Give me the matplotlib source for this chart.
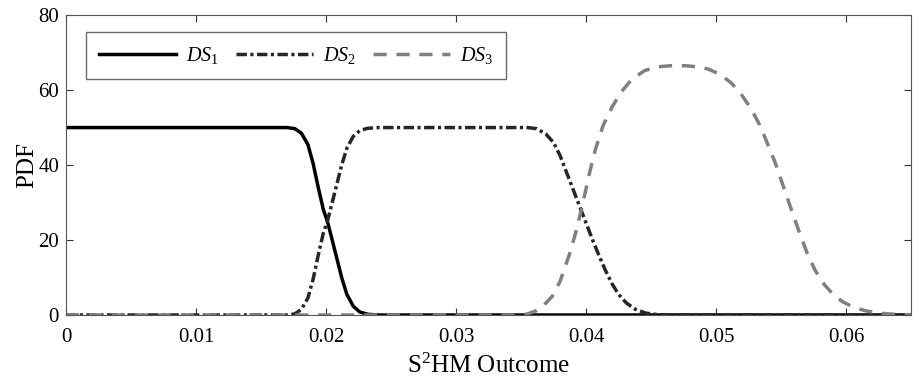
import matplotlib
matplotlib.use("Agg")
import matplotlib.pyplot as plt

plt.rcParams['font.family'] = ['Liberation Serif', 'DejaVu Serif']
plt.rcParams['mathtext.fontset'] = 'custom'
plt.rcParams['mathtext.rm'] = 'Liberation Serif'
plt.rcParams['mathtext.it'] = 'Liberation Serif:italic'

ds1_x = [0, 0.0170, 0.0176, 0.0181, 0.0186, 0.0190, 0.0194, 0.0198, 0.0201, 0.0204,
         0.0208, 0.0212, 0.0216, 0.0221, 0.0226, 0.0232, 0.0240, 0.065]
ds1_y = [50, 50, 49.7, 48.5, 45.5, 40.5, 34, 28, 25, 21,
         15.5, 10, 5.5, 2.3, 0.8, 0.2, 0, 0]

ds2_x = [0, 0.0170, 0.0176, 0.0181, 0.0186, 0.0190, 0.0194, 0.0198, 0.0201, 0.0204,
         0.0208, 0.0212, 0.0216, 0.0221, 0.0226, 0.0232, 0.0240, 0.0355, 0.0362,
         0.0369, 0.0375, 0.0380, 0.0385, 0.0390, 0.0395, 0.0400, 0.0405, 0.0410,
         0.0415, 0.0420, 0.0425, 0.0431, 0.0438, 0.0446, 0.0455, 0.0465, 0.065]
ds2_y = [0, 0, 0.3, 1.5, 4.5, 9.5, 16, 22, 25, 29,
         34.5, 40, 44.5, 47.7, 49.2, 49.8, 50, 50, 49.7,
         48.3, 46, 42.5, 38, 33.5, 29, 24.5, 20, 15.8,
         11.8, 8.3, 5.5, 3.2, 1.5, 0.5, 0.1, 0, 0]

ds3_x = [0, 0.0350, 0.0355, 0.0362, 0.0368, 0.0374, 0.0380, 0.0387, 0.0392, 0.0397,
         0.0402, 0.0407, 0.0413, 0.0420, 0.0427, 0.0435, 0.0445, 0.0455, 0.0465,
         0.0476, 0.0486, 0.0494, 0.0503, 0.0512, 0.0520, 0.0527, 0.0533, 0.0538,
         0.0545, 0.0551, 0.0557, 0.0563, 0.0570, 0.0576, 0.0583, 0.0590, 0.0597,
         0.0605, 0.0614, 0.0623, 0.0632, 0.0645, 0.065]
ds3_y = [0, 0, 0.3, 1.2, 2.8, 5.0, 9, 16, 22, 29,
         37, 44, 50.5, 55.5, 59.5, 62.8, 65.2, 66.2, 66.5,
         66.5, 66.2, 65.6, 64.2, 61.8, 58.5, 55, 51, 47,
         41, 35, 29, 23, 16.5, 12, 8.2, 5.5, 3.6,
         2.2, 1.2, 0.6, 0.3, 0.1, 0.05]

labels = [r'$\mathit{DS}_{\mathit{1}}$', r'$\mathit{DS}_{\mathit{2}}$', r'$\mathit{DS}_{\mathit{3}}$']
xticks = [0, 0.01, 0.02, 0.03, 0.04, 0.05, 0.06]
xticklabels = ['0', '0.01', '0.02', '0.03', '0.04', '0.05', '0.06']
yticks = [0, 20, 40, 60, 80]

fig = plt.figure(figsize=(9.13, 3.87), dpi=100)
ax = fig.add_axes([0.0723, 0.186, 0.9257, 0.775])

ax.plot(ds1_x, ds1_y, color='black', lw=2.5, ls='-', label=labels[0])
ax.plot(ds2_x, ds2_y, color='#262626', lw=2.5, ls=(0, (3.0, 1.0, 0.9, 1.0)), label=labels[1])
ax.plot(ds3_x, ds3_y, color='#808080', lw=2.5, ls=(0, (3.8, 2.8)), label=labels[2])

ax.set_xlim(0, 0.065)
ax.set_ylim(0, 80)
ax.set_xticks(xticks)
ax.set_xticklabels(xticklabels)
ax.set_yticks(yticks)
ax.tick_params(direction='in', top=True, right=True, length=5, width=0.8,
               labelsize=15, color='#333333')
ax.tick_params(axis='x', pad=9)
ax.tick_params(axis='y', pad=5)
for s in ax.spines.values():
    s.set_color('#555555')
    s.set_linewidth(0.8)

ax.set_xlabel(r'S$^2$HM Outcome', fontsize=18, labelpad=5)
ax.set_ylabel('PDF', fontsize=18, labelpad=0)

leg = ax.legend(loc='upper left', ncol=3, fontsize=14.5, frameon=True, fancybox=False,
                handlelength=3.8, columnspacing=0.85, handletextpad=0.5,
                bbox_to_anchor=(0.024, 0.945), borderaxespad=0, borderpad=0.65)
leg.get_frame().set_edgecolor('#444444')
leg.get_frame().set_linewidth(1.0)

fig.savefig('out.png', dpi=100)
